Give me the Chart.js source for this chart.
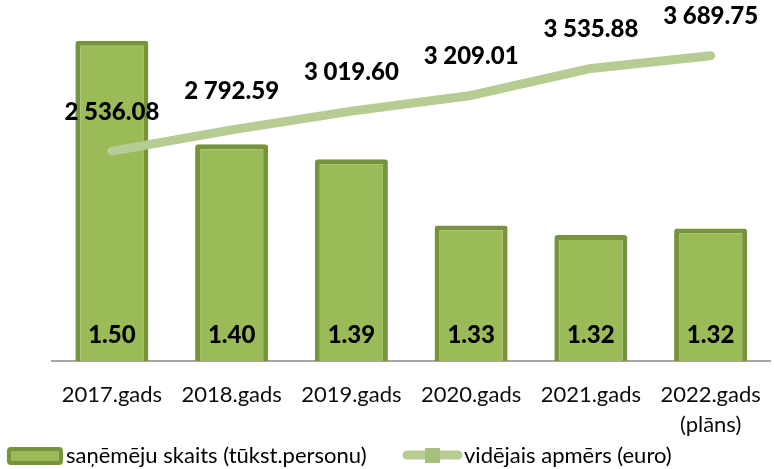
<!DOCTYPE html>
<html lang="lv">
<head>
<meta charset="utf-8">
<script src="https://cdn.jsdelivr.net/npm/chart.js@4.4.1/dist/chart.umd.min.js"></script>
<style>
  html, body { margin: 0; padding: 0; background: #fff; overflow: hidden; }
  #wrap { width: 780px; height: 469px; }
</style>
</head>
<body>
<div id="wrap"><canvas id="chart"></canvas></div>
<script>
const categories = ['2017.gads', '2018.gads', '2019.gads', '2020.gads', '2021.gads', ['2022.gads', '(plāns)']];
const recipients = [1.50, 1.403, 1.389, 1.327, 1.318, 1.324]; // tūkst. personu
const avgAmount = [2536.08, 2792.59, 3019.60, 3209.01, 3535.88, 3689.75]; // euro
const seriesNames = ['saņēmēju skaits (tūkst.personu)', 'vidējais apmērs (euro)'];

const FONT = 'Lato, "Open Sans", sans-serif';
const BAR_FILL = '#9bbb59';
const BAR_EDGE = '#77933c';
const LINE_COLOR = '#b6cc92';

// 2536.08 -> "2 536.08"
function fmtSpaced(v) {
  const parts = v.toFixed(2).split('.');
  return parts[0].replace(/\B(?=(\d{3})+(?!\d))/g, ' ') + '.' + parts[1];
}

// value labels: bar values near the axis, line values above the points
const valueLabels = {
  id: 'valueLabels',
  afterDatasetsDraw(chart) {
    const ctx = chart.ctx;
    const axisTop = chart.scales.x.top;
    ctx.save();
    ctx.font = '900 24px ' + FONT;
    ctx.fillStyle = '#000';
    ctx.textAlign = 'center';
    ctx.textBaseline = 'middle';
    chart.getDatasetMeta(0).data.forEach((bar, i) => {
      ctx.fillText(recipients[i].toFixed(2), bar.x, axisTop - 26);
    });
    chart.getDatasetMeta(1).data.forEach((pt, i) => {
      ctx.fillText(fmtSpaced(avgAmount[i]), pt.x, pt.y - 39);
    });
    ctx.restore();
  }
};

// legend row drawn by hand so the swatches sit tight against the text
const legendRow = {
  id: 'legendRow',
  afterDraw(chart) {
    const ctx = chart.ctx;
    const ds = chart.data.datasets;
    const y = 456;
    ctx.save();

    // bar swatch
    ctx.beginPath();
    ctx.roundRect(9, y - 7, 52, 14, 2);
    ctx.fillStyle = ds[0].backgroundColor;
    ctx.fill();
    ctx.lineWidth = 4;
    ctx.strokeStyle = ds[0].borderColor;
    ctx.stroke();

    // line swatch with a small marker
    ctx.beginPath();
    ctx.moveTo(407, y - 1);
    ctx.lineTo(458, y - 1);
    ctx.lineWidth = 9;
    ctx.lineCap = 'round';
    ctx.strokeStyle = ds[1].borderColor;
    ctx.stroke();
    ctx.fillStyle = '#a6bf7c';
    ctx.fillRect(425, y - 8, 15, 15);

    ctx.font = '22px ' + FONT;
    ctx.fillStyle = '#000';
    ctx.textAlign = 'left';
    ctx.textBaseline = 'middle';
    ctx.fillText(seriesNames[0], 66, y);
    ctx.fillText(seriesNames[1], 464, y);
    ctx.restore();
  }
};

new Chart(document.getElementById('chart'), {
  data: {
    labels: categories,
    datasets: [
      {
        type: 'bar',
        label: seriesNames[0],
        data: recipients,
        yAxisID: 'y',
        order: 1,
        backgroundColor: BAR_FILL,
        borderColor: BAR_EDGE,
        borderWidth: 5,
        borderRadius: 3,
        borderSkipped: false,
        barPercentage: 0.61,
        categoryPercentage: 1,
      },
      {
        type: 'line',
        label: seriesNames[1],
        data: avgAmount,
        yAxisID: 'y2',
        order: 0,
        borderColor: LINE_COLOR,
        backgroundColor: LINE_COLOR,
        borderWidth: 9,
        borderCapStyle: 'round',
        borderJoinStyle: 'round',
        pointRadius: 0,
        tension: 0,
      },
    ],
  },
  options: {
    responsive: true,
    maintainAspectRatio: false,
    animation: false,
    devicePixelRatio: 1,
    layout: {
      padding: { left: 52, right: 2, top: 30, bottom: 0 },
    },
    plugins: {
      legend: { display: false },
      title: { display: false },
      tooltip: { enabled: false },
    },
    scales: {
      x: {
        grid: { drawOnChartArea: false, drawTicks: false },
        border: { display: true, color: '#a6a6a6', width: 2 },
        ticks: {
          color: '#0d0d0d',
          padding: 19,
          maxRotation: 0,
          font: { family: FONT, size: 22, lineHeight: 1.36 },
        },
        afterFit(scale) {
          scale.height = 108;
        },
      },
      y: {
        display: false,
        min: 1.2,
        max: 1.51,
      },
      y2: {
        display: false,
        position: 'right',
        min: 0,
        max: 4000,
      },
    },
  },
  plugins: [valueLabels, legendRow],
});
</script>
</body>
</html>
